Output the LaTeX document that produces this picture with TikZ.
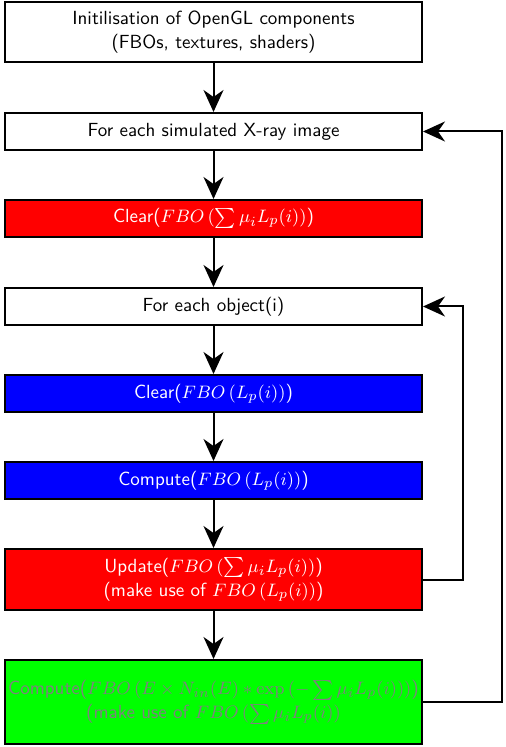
\documentclass[tikz,border=0pt]{standalone}
\usetikzlibrary{arrows.meta}
\renewcommand\familydefault{\sfdefault}
\definecolor{pureg}{RGB}{0,255,0}
\begin{document}
\begin{tikzpicture}[x=0.5pt,y=-0.5pt,
  box/.style={draw=black,line width=1pt,minimum width=208.5pt,inner sep=0pt,align=center,font=\fontsize{9.5}{12}\selectfont},
  arr/.style={line width=1pt,-{Stealth[length=11pt,width=10pt,inset=3.5pt]}},
  ln/.style={line width=1pt}]
\useasboundingbox (0,0) rectangle (506,747);
\node[box,minimum height=30pt,fill=white] (n1) at (213.5,32) {Initilisation of OpenGL components\\(FBOs, textures, shaders)};
\node[box,minimum height=18.5pt,fill=white] (n2) at (213.5,131.5) {For each simulated X-ray image};
\node[box,minimum height=18.5pt,fill=red,text=white] (n3) at (213.5,218.5) {Clear($FBO\,(\sum\mu_iL_p(i))$)};
\node[box,minimum height=18.5pt,fill=white] (n4) at (213.5,306.5) {For each object(i)};
\node[box,minimum height=18.5pt,fill=blue,text=white] (n5) at (213.5,393.5) {Clear($FBO\,(L_p(i))$)};
\node[box,minimum height=18.5pt,fill=blue,text=white] (n6) at (213.5,480.5) {Compute($FBO\,(L_p(i))$)};
\node[box,minimum height=30.5pt,fill=red,text=white] (n7) at (213.5,579.5) {Update($FBO\,(\sum\mu_iL_p(i))$)\\(make use of $FBO\,(L_p(i))$)};
\node[box,minimum height=42pt,text width=208.5pt,fill=pureg,text=gray] (n8) at (213.5,702) {\makebox[\linewidth]{Compute($FBO\,(E\times N_{in}(E)*\exp\,(-\sum\mu_iL_p(i)))$)}\\\makebox[\linewidth]{(make use of $FBO\,(\sum\mu_iL_p(i))$}};
\draw[arr] (n1) -- (n2);
\draw[arr] (n2) -- (n3);
\draw[arr] (n3) -- (n4);
\draw[arr] (n4) -- (n5);
\draw[arr] (n5) -- (n6);
\draw[arr] (n6) -- (n7);
\draw[arr] (n7) -- (n8);
\draw[arr] (n7.east) -| (463,306.5) -- (n4.east);
\draw[arr] (n8.east) -| (502,131.5) -- (n2.east);
\end{tikzpicture}
\end{document}
